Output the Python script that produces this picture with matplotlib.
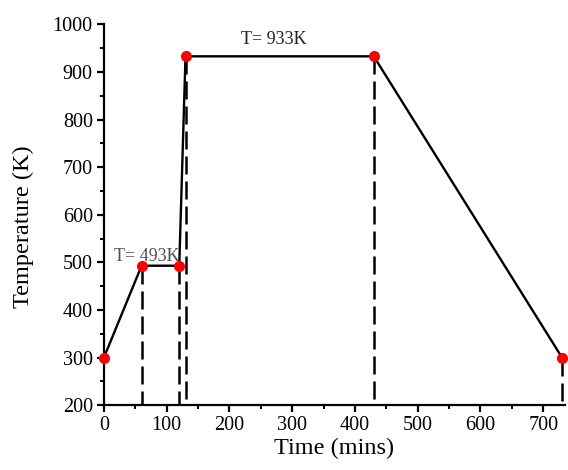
import matplotlib
matplotlib.use('Agg')
import matplotlib.pyplot as plt
from matplotlib.ticker import MultipleLocator

# heating schedule
time_min = [0, 60, 120, 130, 430, 730]
temp_k = [300, 493, 493, 933, 933, 300]
# dashed markers go down to the axis from these stages
dash_idx = [1, 2, 3, 4, 5]
labels = ['T= 493K', 'T= 933K']
label_pos = [(68, 512), (271, 968)]
label_colors = ['#505050', '#222222']

plt.rcParams['font.family'] = ['Liberation Serif', 'DejaVu Serif']

fig = plt.figure(figsize=(5.68, 4.70), dpi=100)
ax = fig.add_axes([0.183, 0.138, 0.812, 0.81])

for i in dash_idx:
    ax.plot([time_min[i], time_min[i]], [temp_k[i], 200], color='black',
            lw=1.8, ls=(0, (7.2, 2.8)), zorder=1)
ax.plot(time_min, temp_k, color='black', lw=1.7, zorder=2)

for txt, (x, y), c in zip(labels, label_pos, label_colors):
    ax.text(x, y, txt, ha='center', va='center', fontsize=13, color=c, zorder=2)

ax.plot(time_min, temp_k, 'o', color='red', ms=7, zorder=3, clip_on=False)

ax.set_xlim(0, 735)
ax.set_ylim(200, 1000)
ax.xaxis.set_major_locator(MultipleLocator(100))
ax.xaxis.set_minor_locator(MultipleLocator(50))
ax.yaxis.set_major_locator(MultipleLocator(100))
ax.yaxis.set_minor_locator(MultipleLocator(50))
ax.spines['top'].set_visible(False)
ax.spines['right'].set_visible(False)
for s in ['left', 'bottom']:
    ax.spines[s].set_linewidth(1.6)
ax.tick_params(which='major', direction='out', length=5, width=1.6,
               labelsize=14.5, pad=3)
ax.tick_params(which='minor', direction='out', length=3, width=1.4)

ax.set_xlabel('Time (mins)', fontsize=17.5, labelpad=2)
ax.set_ylabel('Temperature (K)', fontsize=17.5)
ax.yaxis.set_label_coords(-0.152, 0.468)

fig.savefig('out.png', dpi=100)
